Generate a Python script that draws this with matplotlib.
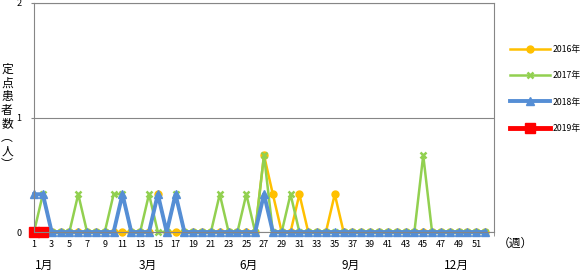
import matplotlib
matplotlib.use("Agg")
import matplotlib.pyplot as plt
import matplotlib.transforms as mtransforms

plt.rcParams['font.family'] = ['Noto Sans CJK JP', 'DejaVu Sans']

weeks = list(range(1, 53))

# 定点当たり患者数（週別）
y2016 = [0] * 52
for w, v in [(15, 0.33), (27, 0.67), (28, 0.33), (31, 0.33), (35, 0.33)]:
    y2016[w - 1] = v

y2017 = [0] * 52
for w, v in [(2, 0.33), (6, 0.33), (10, 0.33), (11, 0.33), (14, 0.33), (17, 0.33),
             (22, 0.33), (25, 0.33), (27, 0.67), (30, 0.33), (45, 0.67)]:
    y2017[w - 1] = v

y2018 = [0] * 52
for w, v in [(1, 0.33), (2, 0.33), (11, 0.33), (15, 0.33), (17, 0.33), (27, 0.33)]:
    y2018[w - 1] = v

weeks2019 = [1, 2]
y2019 = [0, 0]

month_labels = ["1月", "3月", "6月", "9月", "12月"]
month_pos = [2.2, 13.9, 25.3, 36.8, 48.8]

fig = plt.figure(figsize=(5.82, 2.72), dpi=100)
ax = fig.add_axes([34 / 582, 1 - 232 / 272, 460 / 582, 229 / 272])

ax.plot(weeks, y2016, color='#FFC000', lw=1.8, marker='o', ms=5, label='2016年', clip_on=False)
ax.plot(weeks, y2017, color='#92D050', lw=1.8, marker='x', ms=5, mew=1.8, label='2017年', clip_on=False)
ax.plot(weeks, y2018, color='#558ED5', lw=2.8, marker='^', ms=6, label='2018年', clip_on=False)
ax.plot(weeks2019, y2019, color='#FF0000', lw=3.5, marker='s', ms=6.5, label='2019年', clip_on=False)

ax.set_xlim(1, 53)
ax.set_ylim(0, 2)
ax.set_xticks(range(1, 53, 2))
ax.set_xticks([1, 27, 53], minor=True)
ax.set_yticks([0, 1, 2])
ax.tick_params(axis='x', which='major', length=0, labelsize=6.5, pad=6)
ax.tick_params(axis='x', which='minor', length=3, color='#868686')
ax.tick_params(axis='y', length=2, color='#868686', labelsize=6.5, pad=7)
ax.grid(axis='y', color='#868686', lw=0.8)
for s in ax.spines.values():
    s.set_color('#868686')
    s.set_linewidth(0.8)
ax.set_axisbelow(True)

trans = mtransforms.blended_transform_factory(ax.transData, ax.transAxes)
for lab, p in zip(month_labels, month_pos):
    ax.text(p, -0.145, lab, transform=trans, ha='center', va='center', fontsize=8.5)

fig.text(498 / 582, 1 - 243 / 272, "（週）", ha='left', va='center', fontsize=8.5)
fig.text(7 / 582, 1 - 117 / 272, "定\n点\n患\n者\n数\n︵\n人\n︶", ha='center', va='center',
         fontsize=8.5, linespacing=1.05)

ax.legend(loc='center left', bbox_to_anchor=(506 / 582, 1 - 89 / 272),
          bbox_transform=fig.transFigure, frameon=False, fontsize=6.3,
          handlelength=4.6, labelspacing=1.95, handletextpad=0.35, borderaxespad=0)

fig.savefig("out.png", dpi=100)
